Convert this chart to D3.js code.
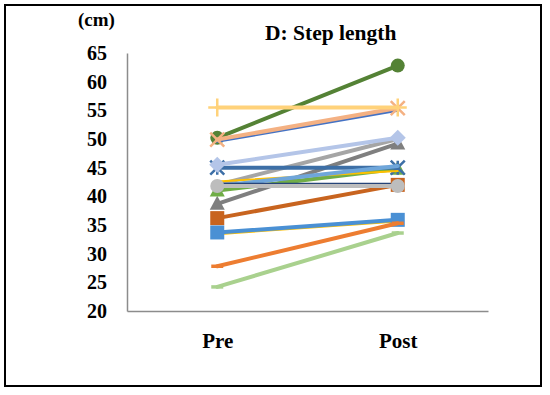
<!DOCTYPE html>
<html><head><meta charset="utf-8">
<script src="https://cdn.jsdelivr.net/npm/d3@7"></script>
<style>body{margin:0;background:#fff}svg{display:block}</style>
</head><body>
<svg id="chart" width="550" height="395"></svg>
<script>
// ---- data ----
const categories = ["Pre", "Post"];
const yTicks = [20, 25, 30, 35, 40, 45, 50, 55, 60, 65];
const subjects = ["S1","S2","S3","S4","S5","S6","S7","S8","S9","S10","S11","S12","S13","S14","S15","S16","S17","S18"];
const preValues  = [50.2, 49.6, 49.9, 55.5, 42.0, 38.7, 41.0, 45.0, 45.5, 42.6, 41.8, 42.2, 36.2, 41.8, 33.4, 33.7, 27.8, 24.2];
const postValues = [62.8, 55.0, 55.4, 55.5, 50.0, 49.2, 44.8, 45.0, 50.2, 44.4, 45.3, 42.2, 42.0, 41.8, 35.6, 35.9, 35.3, 33.6];

// ---- styles (per series, drawing order) ----
const seriesColors  = ["#548235","#4472C4","#F4B183","#FFD27A","#A5A5A5","#7F7F7F","#70AD47","#3D6FA6","#B4C5E8","#FFC000","#6FA6DA","#264478","#C8641F","#BDBDBD","#FFC000","#4A90D4","#ED7D31","#A9D18E"];
const seriesMarkers = ["circle","none","x","plus","none","triangle","triangle","asterisk","diamond","none","none","dot","square","circle","dash","square","dash","dash"];
const seriesWidths  = [4,3,4,4,4,4,4,4,4,2,4,2,4,4,2,4,4,4];

const svg = d3.select("#chart");
const plot = {left: 127, right: 488, top: 53, bottom: 311};

// frame
svg.append("rect").attr("x", 5).attr("y", 5).attr("width", 536).attr("height", 381)
  .attr("fill", "#fff").attr("stroke", "#000").attr("stroke-width", 2);

const x = d3.scalePoint().domain(categories).range([plot.left, plot.right]).padding(0.5);
const y = d3.scaleLinear().domain([20, 65]).range([plot.bottom, plot.top]);

const font = "'Liberation Serif','Times New Roman',serif";

// y axis
const yAxis = d3.axisLeft(y).tickValues(yTicks).tickSize(0).tickPadding(20);
const gy = svg.append("g").attr("transform", `translate(${plot.left},0)`).call(yAxis);
gy.select(".domain").attr("stroke", "#8c8c8c").attr("stroke-width", 1.5);
gy.selectAll("text").attr("font-family", font).attr("font-weight", "bold").attr("font-size", 20).attr("fill", "#000");

// x axis
const xAxis = d3.axisBottom(x).tickSize(0).tickPadding(22);
const gx = svg.append("g").attr("transform", `translate(0,${plot.bottom})`).call(xAxis);
gx.select(".domain").attr("stroke", "#8c8c8c").attr("stroke-width", 1.5);
gx.selectAll("text").attr("font-family", font).attr("font-weight", "bold").attr("font-size", 21).attr("fill", "#000");

// unit label and title
svg.append("text").attr("x", 78).attr("y", 26).text("(cm)")
  .attr("font-family", font).attr("font-weight", "bold").attr("font-size", 19);
svg.append("text").attr("x", 265).attr("y", 40).text("D: Step length")
  .attr("font-family", font).attr("font-weight", "bold").attr("font-size", 21.5);

// marker drawing
function drawMarker(g, type, cx, cy, color) {
  const s = 7;
  if (type === "none") return;
  if (type === "circle") g.append("circle").attr("cx", cx).attr("cy", cy).attr("r", 7).attr("fill", color);
  else if (type === "dot") g.append("circle").attr("cx", cx).attr("cy", cy).attr("r", 2.5).attr("fill", color);
  else if (type === "square") g.append("rect").attr("x", cx - 7).attr("y", cy - 7).attr("width", 14).attr("height", 14).attr("fill", color);
  else if (type === "diamond") g.append("path").attr("d", `M${cx},${cy-8}L${cx+8},${cy}L${cx},${cy+8}L${cx-8},${cy}Z`).attr("fill", color);
  else if (type === "triangle") g.append("path").attr("d", `M${cx},${cy-8}L${cx+7.5},${cy+6}L${cx-7.5},${cy+6}Z`).attr("fill", color);
  else if (type === "x") g.append("path").attr("d", `M${cx-s},${cy-s}L${cx+s},${cy+s}M${cx+s},${cy-s}L${cx-s},${cy+s}`).attr("stroke", color).attr("stroke-width", 2.5);
  else if (type === "asterisk") g.append("path").attr("d", `M${cx-s},${cy-s}L${cx+s},${cy+s}M${cx+s},${cy-s}L${cx-s},${cy+s}M${cx},${cy-s}L${cx},${cy+s}`).attr("stroke", color).attr("stroke-width", 2.5);
  else if (type === "plus") g.append("path").attr("d", `M${cx-9},${cy}L${cx+9},${cy}M${cx},${cy-9}L${cx},${cy+9}`).attr("stroke", color).attr("stroke-width", 2.5);
  else if (type === "dash") g.append("path").attr("d", `M${cx-6},${cy}L${cx+6},${cy}`).attr("stroke", color).attr("stroke-width", 3.5);
}

const line = d3.line().x(d => x(d.cat)).y(d => y(d.v));
subjects.forEach((name, i) => {
  const pts = [{cat: categories[0], v: preValues[i]}, {cat: categories[1], v: postValues[i]}];
  const g = svg.append("g").attr("class", "series").attr("data-name", name);
  g.append("path").datum(pts).attr("d", line).attr("fill", "none")
    .attr("stroke", seriesColors[i]).attr("stroke-width", seriesWidths[i]).attr("stroke-linecap", "round");
  pts.forEach(p => drawMarker(g, seriesMarkers[i], x(p.cat), y(p.v), seriesColors[i]));
});
</script>
</body></html>
